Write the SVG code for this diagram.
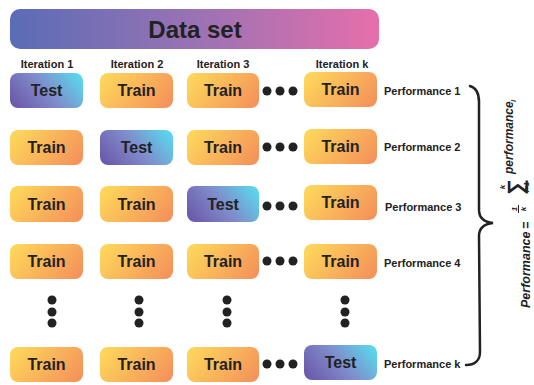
<svg xmlns="http://www.w3.org/2000/svg" width="534" height="385" viewBox="0 0 534 385">
<defs>
<linearGradient id="gData" x1="0" y1="0" x2="1" y2="0">
<stop offset="0" stop-color="#5a6cb6"/>
<stop offset="0.5" stop-color="#9a72b4"/>
<stop offset="1" stop-color="#e66fab"/>
</linearGradient>
<linearGradient id="gTrain" x1="0" y1="0.3" x2="1" y2="0.7">
<stop offset="0" stop-color="#fdd55b"/>
<stop offset="1" stop-color="#f5945a"/>
</linearGradient>
<linearGradient id="gTest" x1="0" y1="0.7" x2="1" y2="0.3">
<stop offset="0" stop-color="#6d5cac"/>
<stop offset="0.5" stop-color="#7f8ccb"/>
<stop offset="1" stop-color="#5cd3ea"/>
</linearGradient>
</defs>
<style>
text{font-family:"Liberation Sans",Arial,sans-serif;font-weight:bold;fill:#222;}
.box{font-size:16px;text-anchor:middle;}
.it{font-size:11px;text-anchor:middle;}
.perf{font-size:11px;}
.train{fill:url(#gTrain);}
.test{fill:url(#gTest);}
.dot{fill:#222;}
.brace{fill:none;stroke:#222;stroke-width:2.5;stroke-linecap:round;}
</style>
<g id="dataset">
<rect x="10" y="9" width="369" height="40" rx="10" fill="url(#gData)"/>
<text x="195" y="38" style="font-size:24px;text-anchor:middle">Data set</text>
</g>
<g id="iteration-labels">
<text class="it" x="47" y="68">Iteration 1</text>
<text class="it" x="137" y="68">Iteration 2</text>
<text class="it" x="223" y="68">Iteration 3</text>
<text class="it" x="342" y="68">Iteration k</text>
</g>
<g id="row1">
<rect class="test" x="10" y="73" width="73" height="35" rx="8"/><text class="box" x="46.5" y="96">Test</text>
<rect class="train" x="100" y="73" width="73" height="35" rx="8"/><text class="box" x="136.5" y="96">Train</text>
<rect class="train" x="187" y="73" width="72" height="35" rx="8"/><text class="box" x="223" y="96">Train</text>
<circle class="dot" cx="267" cy="91" r="4.5"/><circle class="dot" cx="280" cy="91" r="4.5"/><circle class="dot" cx="293" cy="91" r="4.5"/>
<rect class="train" x="304" y="72" width="73" height="35" rx="8"/><text class="box" x="340.5" y="95">Train</text>
<text class="perf" x="384" y="95">Performance 1</text>
</g>
<g id="row2">
<rect class="train" x="10" y="130" width="73" height="35" rx="8"/><text class="box" x="46.5" y="153">Train</text>
<rect class="test" x="100" y="130" width="73" height="35" rx="8"/><text class="box" x="136.5" y="153">Test</text>
<rect class="train" x="187" y="130" width="72" height="35" rx="8"/><text class="box" x="223" y="153">Train</text>
<circle class="dot" cx="267" cy="147" r="4.5"/><circle class="dot" cx="280" cy="147" r="4.5"/><circle class="dot" cx="293" cy="147" r="4.5"/>
<rect class="train" x="304" y="129" width="73" height="35" rx="8"/><text class="box" x="340.5" y="152">Train</text>
<text class="perf" x="384" y="151">Performance 2</text>
</g>
<g id="row3">
<rect class="train" x="10" y="186" width="73" height="36" rx="8"/><text class="box" x="46.5" y="209.5">Train</text>
<rect class="train" x="100" y="186" width="73" height="36" rx="8"/><text class="box" x="136.5" y="209.5">Train</text>
<rect class="test" x="187" y="186" width="72" height="36" rx="8"/><text class="box" x="223" y="209.5">Test</text>
<circle class="dot" cx="267" cy="206" r="4.5"/><circle class="dot" cx="280" cy="206" r="4.5"/><circle class="dot" cx="293" cy="206" r="4.5"/>
<rect class="train" x="304" y="185" width="73" height="35" rx="8"/><text class="box" x="340.5" y="208">Train</text>
<text class="perf" x="385" y="211">Performance 3</text>
</g>
<g id="row4">
<rect class="train" x="10" y="244" width="73" height="35" rx="8"/><text class="box" x="46.5" y="267">Train</text>
<rect class="train" x="100" y="244" width="73" height="35" rx="8"/><text class="box" x="136.5" y="267">Train</text>
<rect class="train" x="187" y="244" width="72" height="35" rx="8"/><text class="box" x="223" y="267">Train</text>
<circle class="dot" cx="267" cy="261" r="4.5"/><circle class="dot" cx="280" cy="261" r="4.5"/><circle class="dot" cx="293" cy="261" r="4.5"/>
<rect class="train" x="304" y="244" width="73" height="35" rx="8"/><text class="box" x="340.5" y="267">Train</text>
<text class="perf" x="384" y="267">Performance 4</text>
</g>
<g id="vdots">
<circle class="dot" cx="52" cy="300" r="4.5"/><circle class="dot" cx="52" cy="312" r="4.5"/><circle class="dot" cx="52" cy="323" r="4.5"/>
<circle class="dot" cx="139" cy="300" r="4.5"/><circle class="dot" cx="139" cy="312" r="4.5"/><circle class="dot" cx="139" cy="323" r="4.5"/>
<circle class="dot" cx="227" cy="300" r="4.5"/><circle class="dot" cx="227" cy="312" r="4.5"/><circle class="dot" cx="227" cy="323" r="4.5"/>
<circle class="dot" cx="345" cy="300" r="4.5"/><circle class="dot" cx="345" cy="312" r="4.5"/><circle class="dot" cx="345" cy="323" r="4.5"/>
</g>
<g id="rowk">
<rect class="train" x="10" y="347" width="73" height="35" rx="8"/><text class="box" x="46.5" y="370">Train</text>
<rect class="train" x="100" y="347" width="73" height="35" rx="8"/><text class="box" x="136.5" y="370">Train</text>
<rect class="train" x="187" y="347" width="72" height="35" rx="8"/><text class="box" x="223" y="370">Train</text>
<circle class="dot" cx="267" cy="364" r="4.5"/><circle class="dot" cx="280" cy="364" r="4.5"/><circle class="dot" cx="293" cy="364" r="4.5"/>
<rect class="test" x="304" y="345" width="73" height="35" rx="8"/><text class="box" x="340.5" y="368">Test</text>
<text class="perf" x="384" y="368">Performance k</text>
</g>
<g id="connectors">
<path class="brace" d="M470,86 C477,88 479,94 479,102 L479,210 C479,218 484,222 493,223 C484,224 479,228 479,236 L480,352 C480,360 475,365 466,365"/>
</g>
<g id="formula" transform="translate(530,308) rotate(-90)" style="font-style:italic">
<text x="0" y="0" style="font-size:12.5px">Performance</text>
<text x="79" y="0" style="font-size:12.5px">=</text>
<text x="99" y="-13.5" style="font-size:8px;text-anchor:middle">1</text>
<line x1="95" y1="-11.5" x2="103" y2="-11.5" stroke="#222" stroke-width="1"/>
<text x="99" y="-4" style="font-size:8px;text-anchor:middle">k</text>
<text x="121" y="-1" style="font-size:7px;text-anchor:middle">i=1</text>
<text x="121" y="-7" style="font-size:22px;text-anchor:middle;font-style:normal">∑</text>
<text x="121" y="-25" style="font-size:8px;text-anchor:middle">k</text>
<text x="134" y="-17" style="font-size:12px">performance</text>
<text x="206" y="-14" style="font-size:8px">i</text>
</g>
</svg>
